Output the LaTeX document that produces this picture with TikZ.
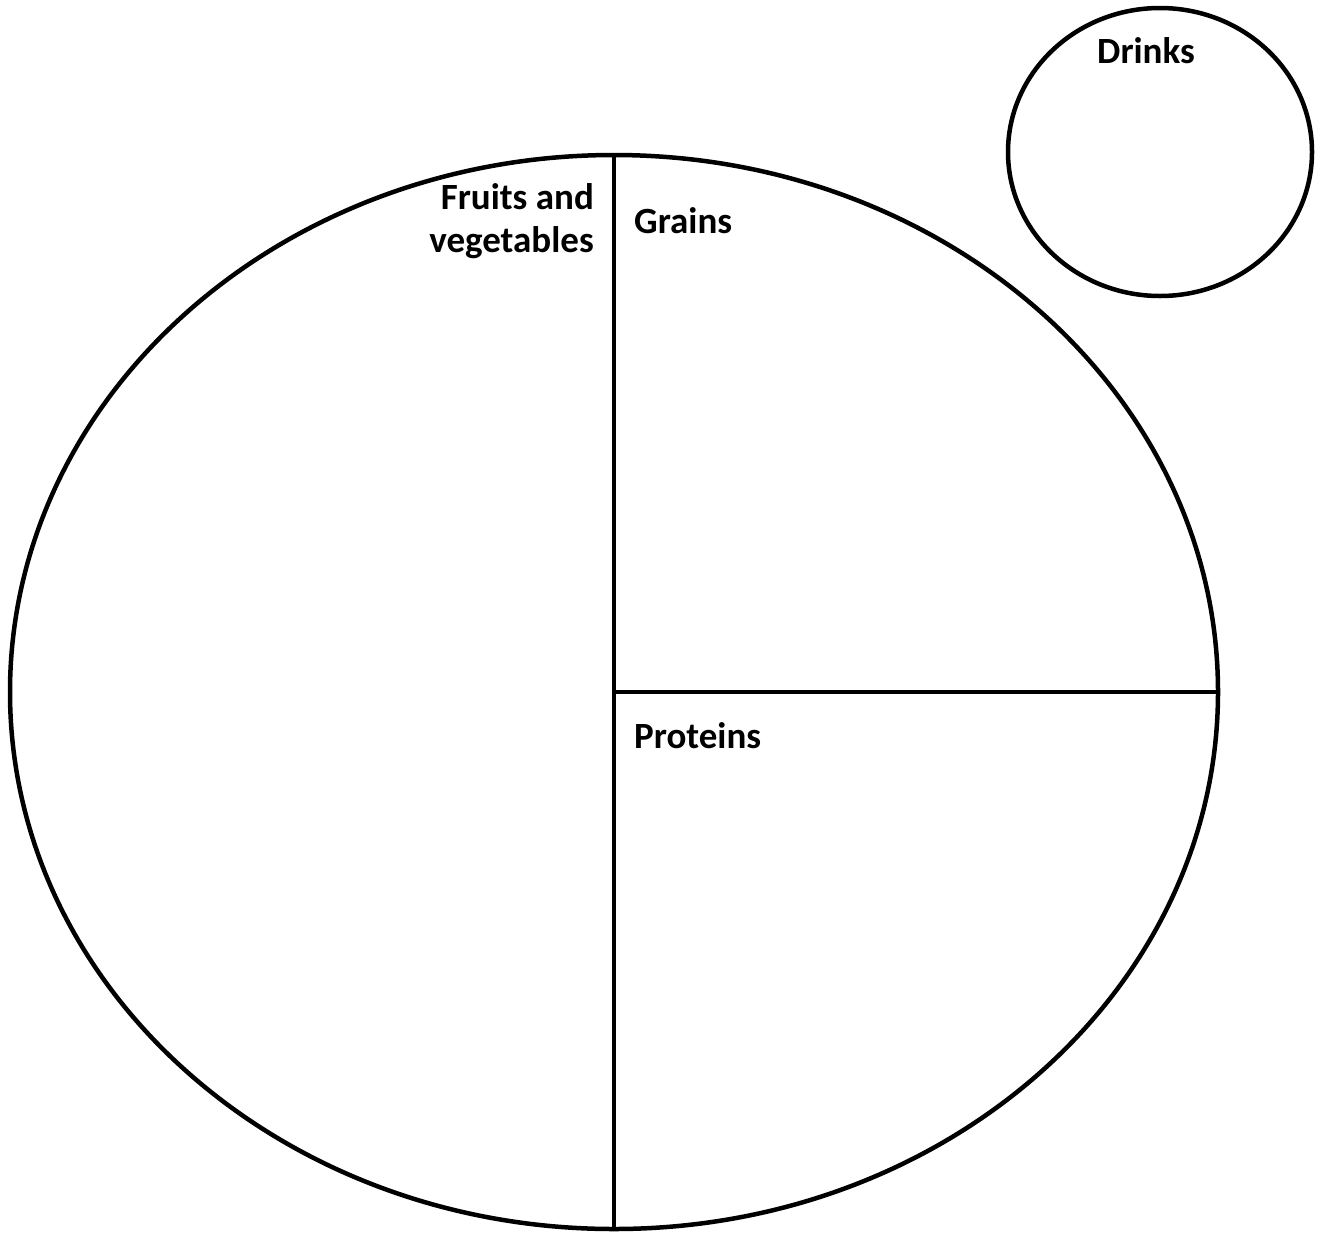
\documentclass[tikz,border=0pt]{standalone}
\usepackage{fontspec}
\setmainfont{Carlito}
\begin{document}
\begin{tikzpicture}[x=1pt,y=-1pt,
  outline/.style={draw=black,line width=4.5pt},
  lbl/.style={inner sep=0pt,font=\fontsize{37}{44}\selectfont\bfseries}]
\useasboundingbox (0,0) rectangle (1325,1235);
\draw[outline] (614,692) ellipse [x radius=604, y radius=537];
\coordinate (top) at (614,155);
\coordinate (bot) at (614,1229);
\coordinate (mid) at (614,692);
\coordinate (rgt) at (1218,692);
\draw[outline] (top) -- (bot);
\draw[outline] (mid) -- (rgt);
\draw[outline] (1160,152) ellipse [x radius=152, y radius=144];
\node[lbl,anchor=base east] (fv1) at (594,209) {Fruits and};
\node[lbl,anchor=base east] (fv2) at (594,252) {vegetables};
\node[lbl,anchor=base west] (gr) at (634,233) {Grains};
\node[lbl,anchor=base west] (pr) at (634,748) {Proteins};
\node[lbl,anchor=base] (dr) at (1146,63) {Drinks};
\end{tikzpicture}
\end{document}
